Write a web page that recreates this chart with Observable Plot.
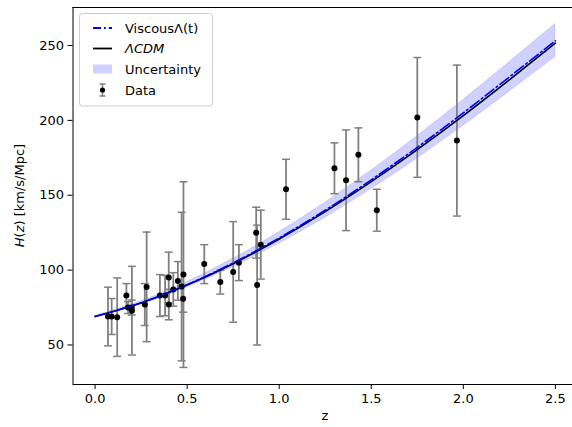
<!DOCTYPE html>
<html>
<head>
<meta charset="utf-8">
<script src="https://cdn.jsdelivr.net/npm/d3@7"></script>
<script src="https://cdn.jsdelivr.net/npm/@observablehq/plot@0.6"></script>
<style>
  html, body { margin: 0; padding: 0; background: white; }
</style>
</head>
<body>
<div id="chart"></div>
<script>
// Observational H(z) data (cosmic chronometers)
const zData = [0.07, 0.09, 0.12, 0.17, 0.179, 0.199, 0.2, 0.27, 0.28, 0.352, 0.3802, 0.4, 0.4004, 0.4247, 0.4497, 0.47, 0.4783, 0.48, 0.593, 0.68, 0.75, 0.781, 0.875, 0.88, 0.9, 1.037, 1.3, 1.363, 1.43, 1.53, 1.75, 1.965];
const hData = [69, 69, 68.6, 83, 75, 75, 72.9, 77, 88.8, 83, 83, 95, 77, 87.1, 92.8, 89, 80.9, 97, 104, 92, 98.8, 105, 125, 90, 117, 154, 168, 160, 177, 140, 202, 186.5];
const sData = [19.6, 12, 26.2, 8, 4, 5, 29.6, 14, 36.6, 14, 13.5, 17, 10.2, 11.2, 12.9, 49.6, 9, 62, 13, 8, 33.6, 12, 17, 40, 23, 20, 17, 33.6, 18, 14, 40, 50.4];

// Model curves
const zModel   = [0, 0.25, 0.5, 0.75, 1.0, 1.25, 1.5, 1.75, 2.0, 2.25, 2.5];
const hLCDM    = [69.0, 78.1, 90.0, 104.3, 120.8, 139.1, 159.1, 180.5, 203.2, 227.1, 251.6];
const hViscous = [69.0, 78.2, 90.3, 104.8, 121.5, 140.0, 160.3, 182.0, 205.0, 229.0, 253.2];
const hUpper   = [69.3, 79.2, 92.1, 107.6, 125.3, 145.0, 166.5, 189.4, 213.6, 238.8, 264.3];
const hLower   = [68.7, 77.2, 88.5, 102.0, 117.7, 135.0, 154.1, 174.6, 196.4, 219.2, 242.3];

const xTicks = [0, 0.5, 1.0, 1.5, 2.0, 2.5];
const yTicks = [50, 100, 150, 200, 250];

const data = zData.map((z, i) => ({z, h: hData[i], s: sData[i]}));
const model = zModel.map((z, i) => ({z, lcdm: hLCDM[i], visc: hViscous[i], hi: hUpper[i], lo: hLower[i]}));

const xDomain = [-0.12, 2.593];
const yDomain = [23.6, 275.4];

const capSymbol = {
  draw(ctx, size) {
    const h = Math.sqrt(size / Math.PI);
    ctx.moveTo(-h, 0);
    ctx.lineTo(h, 0);
  }
};

const chart = Plot.plot({
  width: 572,
  height: 427,
  marginLeft: 72.5,
  marginRight: 0,
  marginTop: 7,
  marginBottom: 43,
  style: {fontFamily: "DejaVu Sans", fontSize: "13px", color: "black", background: "white"},
  x: {domain: xDomain, label: null},
  y: {domain: yDomain, label: null},
  marks: [
    Plot.areaY(model, {x: "z", y1: "lo", y2: "hi", fill: "blue", fillOpacity: 0.18, stroke: "blue", strokeOpacity: 0.12, strokeWidth: 1, curve: "natural"}),
    Plot.ruleX(data, {x: "z", y1: d => d.h - d.s, y2: d => d.h + d.s, stroke: "gray", strokeWidth: 1.8}),
    Plot.dot(data, {x: "z", y: d => d.h + d.s, symbol: capSymbol, r: 4, stroke: "gray", strokeWidth: 1.5, fill: "none"}),
    Plot.dot(data, {x: "z", y: d => d.h - d.s, symbol: capSymbol, r: 4, stroke: "gray", strokeWidth: 1.5, fill: "none"}),
    Plot.dot(data, {x: "z", y: "h", r: 3, fill: "black", stroke: "none"}),
    Plot.line(model, {x: "z", y: "lcdm", stroke: "black", strokeWidth: 1.6, curve: "natural"}),
    Plot.line(model, {x: "z", y: "visc", stroke: "blue", strokeWidth: 1.6, strokeDasharray: "11,3,1.8,3", curve: "natural"}),
    Plot.axisX({ticks: xTicks, tickFormat: d3.format(".1f"), tickSize: 5, tickPadding: 4, label: null}),
    Plot.axisY({ticks: yTicks, tickSize: 5, tickPadding: 4, label: null}),
    Plot.ruleX([xDomain[0]], {stroke: "black", strokeWidth: 1}),
    Plot.ruleY([yDomain[0], yDomain[1]], {stroke: "black", strokeWidth: 1})
  ]
});

document.getElementById("chart").appendChild(chart);

// Axis labels and legend
const svg = d3.select(chart);
const ylab = svg.append("text")
  .attr("transform", "translate(20,195.5) rotate(-90)")
  .attr("text-anchor", "middle")
  .attr("dominant-baseline", "middle")
  .attr("font-size", 13)
  .attr("fill", "black");
ylab.append("tspan").attr("font-style", "italic").text("H");
ylab.append("tspan").text("(");
ylab.append("tspan").attr("font-style", "italic").text("z");
ylab.append("tspan").text(") [km/s/Mpc]");

svg.append("text")
  .attr("x", 325).attr("y", 420)
  .attr("text-anchor", "middle")
  .attr("font-size", 13)
  .attr("fill", "black")
  .text("z");

const lg = svg.append("g");
lg.append("rect")
  .attr("x", 79.5).attr("y", 13.5).attr("width", 133).attr("height", 92.5)
  .attr("rx", 3).attr("fill", "white").attr("fill-opacity", 0.8)
  .attr("stroke", "#cccccc").attr("stroke-width", 1);

const rows = [28, 48.5, 69, 90];
lg.append("line").attr("x1", 93).attr("x2", 112).attr("y1", rows[0]).attr("y2", rows[0])
  .attr("stroke", "blue").attr("stroke-width", 1.8).attr("stroke-dasharray", "8,3,1.8,3");
lg.append("line").attr("x1", 93).attr("x2", 112).attr("y1", rows[1]).attr("y2", rows[1])
  .attr("stroke", "black").attr("stroke-width", 1.8);
lg.append("rect").attr("x", 93).attr("y", rows[2] - 4.5).attr("width", 19).attr("height", 9)
  .attr("fill", "blue").attr("fill-opacity", 0.18);
lg.append("line").attr("x1", 102.5).attr("x2", 102.5).attr("y1", rows[3] - 6).attr("y2", rows[3] + 6)
  .attr("stroke", "gray").attr("stroke-width", 1.5);
lg.append("line").attr("x1", 99.5).attr("x2", 105.5).attr("y1", rows[3] - 6).attr("y2", rows[3] - 6)
  .attr("stroke", "gray").attr("stroke-width", 1.5);
lg.append("line").attr("x1", 99.5).attr("x2", 105.5).attr("y1", rows[3] + 6).attr("y2", rows[3] + 6)
  .attr("stroke", "gray").attr("stroke-width", 1.5);
lg.append("circle").attr("cx", 102.5).attr("cy", rows[3]).attr("r", 2.6).attr("fill", "black");

const labels = [["Viscous\u039B(t)", "normal"], ["\u039BCDM", "italic"], ["Uncertainty", "normal"], ["Data", "normal"]];
labels.forEach(([t, st], i) => {
  lg.append("text").attr("x", 125).attr("y", rows[i])
    .attr("text-anchor", "start")
    .attr("dominant-baseline", "central")
    .attr("font-size", 13).attr("font-style", st).attr("fill", "black")
    .text(t);
});
</script>
</body>
</html>
